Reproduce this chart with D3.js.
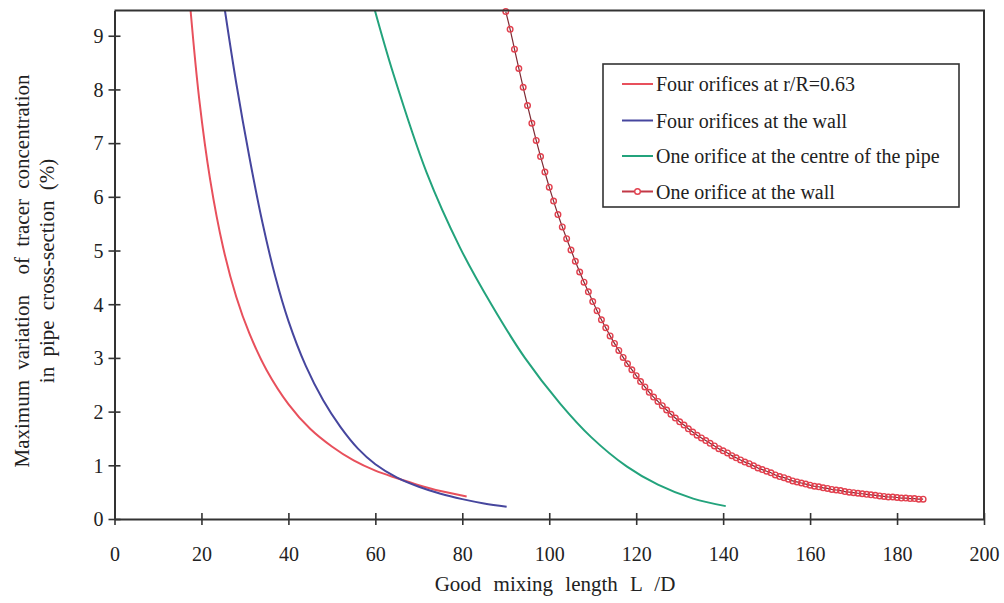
<!DOCTYPE html>
<html>
<head>
<meta charset="utf-8">
<script src="https://cdn.jsdelivr.net/npm/d3@7"></script>
<style>
  body { margin: 0; background: #fff; }
  svg { display: block; }
  text { font-family: "Liberation Serif", "Times New Roman", serif; fill: #222; }
</style>
</head>
<body>
<svg id="chart" width="1004" height="603"></svg>
<script>
// Axis ticks
const xTicks = [0, 20, 40, 60, 80, 100, 120, 140, 160, 180, 200];
const yTicks = [0, 1, 2, 3, 4, 5, 6, 7, 8, 9];

// Series labels
const seriesLabels = [
  "Four orifices at r/R=0.63",
  "Four orifices at the wall",
  "One orifice at the centre of the pipe",
  "One orifice at the wall"
];

// Four orifices at r/R=0.63
const fourMidX = [17.5, 19.5, 22, 25, 28, 31, 35, 40, 45, 50, 55, 60, 65, 70, 75, 81];
const fourMidY = [9.47, 7.81, 6.32, 5.05, 4.14, 3.46, 2.77, 2.14, 1.68, 1.35, 1.09, 0.90, 0.76, 0.63, 0.52, 0.42];

// Four orifices at the wall
const fourWallX = [25.4, 28, 31, 34, 37, 40, 44, 48, 52, 56, 60, 65, 70, 75, 80, 85, 90.2];
const fourWallY = [9.47, 8.12, 6.75, 5.53, 4.51, 3.69, 2.85, 2.21, 1.71, 1.31, 1.02, 0.77, 0.60, 0.47, 0.37, 0.29, 0.23];

// One orifice at the centre of the pipe
const oneCentreX = [59.9, 64.1, 71.8, 79.5, 86.8, 94.4, 102.5, 109.7, 117.8, 125.0, 133.1, 140.6];
const oneCentreY = [9.47, 8.30, 6.45, 5.05, 3.98, 3.00, 2.15, 1.52, 0.98, 0.64, 0.38, 0.24];

// One orifice at the wall (one marker per unit of L/D)
const oneWallX = [
  90, 91, 92, 93, 94, 95, 96, 97, 98, 99,
  100, 101, 102, 103, 104, 105, 106, 107, 108, 109,
  110, 111, 112, 113, 114, 115, 116, 117, 118, 119,
  120, 121, 122, 123, 124, 125, 126, 127, 128, 129,
  130, 131, 132, 133, 134, 135, 136, 137, 138, 139,
  140, 141, 142, 143, 144, 145, 146, 147, 148, 149,
  150, 151, 152, 153, 154, 155, 156, 157, 158, 159,
  160, 161, 162, 163, 164, 165, 166, 167, 168, 169,
  170, 171, 172, 173, 174, 175, 176, 177, 178, 179,
  180, 181, 182, 183, 184, 185, 186
];
const oneWallY = [
  9.45, 9.12, 8.75, 8.39, 8.04, 7.70, 7.37, 7.05, 6.75, 6.46,
  6.18, 5.92, 5.67, 5.44, 5.22, 5.01, 4.80, 4.60, 4.41, 4.23,
  4.05, 3.88, 3.71, 3.56, 3.41, 3.27, 3.14, 3.01, 2.89, 2.78,
  2.67, 2.56, 2.46, 2.36, 2.27, 2.19, 2.11, 2.03, 1.95, 1.88,
  1.81, 1.75, 1.68, 1.62, 1.56, 1.51, 1.46, 1.41, 1.36, 1.31,
  1.27, 1.23, 1.18, 1.14, 1.10, 1.06, 1.03, 0.99, 0.95, 0.92,
  0.89, 0.86, 0.82, 0.79, 0.77, 0.74, 0.71, 0.69, 0.67, 0.65,
  0.63, 0.61, 0.60, 0.58, 0.57, 0.55, 0.54, 0.53, 0.51, 0.50,
  0.49, 0.48, 0.47, 0.46, 0.45, 0.44, 0.43, 0.42, 0.41, 0.41,
  0.40, 0.39, 0.39, 0.38, 0.38, 0.37, 0.37
];

const colors = ["#e8505c", "#46469e", "#23a37c", "#e2404e"];

(function draw() {
  const svg = d3.select("#chart");
  const plotLeft = 114.5, plotRight = 984, plotTop = 10.5, plotBottom = 519;

  const x = d3.scaleLinear().domain([0, 200]).range([plotLeft, plotRight]);
  const y = d3.scaleLinear().domain([0, 9.47]).range([plotBottom, plotTop]);

  // Clip region for the curves
  svg.append("defs").append("clipPath").attr("id", "plot-clip")
    .append("rect").attr("x", plotLeft).attr("y", plotTop)
    .attr("width", plotRight - plotLeft).attr("height", plotBottom - plotTop);

  const zip = (xs, ys) => xs.map((v, i) => [v, ys[i]]);
  const line = d3.line().x(d => x(d[0])).y(d => y(d[1])).curve(d3.curveCatmullRom.alpha(0.5));

  const curves = svg.append("g").attr("clip-path", "url(#plot-clip)");
  [[fourMidX, fourMidY], [fourWallX, fourWallY], [oneCentreX, oneCentreY]].forEach((s, i) => {
    curves.append("path")
      .datum(zip(s[0], s[1]))
      .attr("d", line)
      .attr("fill", "none")
      .attr("stroke", colors[i])
      .attr("stroke-width", 2);
  });

  // Marker series
  const wallPts = zip(oneWallX, oneWallY);
  svg.append("path")
    .datum(wallPts)
    .attr("d", line)
    .attr("fill", "none")
    .attr("stroke", "#7e2a34")
    .attr("stroke-width", 1.2);
  svg.append("g").selectAll("circle")
    .data(wallPts)
    .join("circle")
    .attr("cx", d => x(d[0]))
    .attr("cy", d => y(d[1]))
    .attr("r", 2.8)
    .attr("fill", "none")
    .attr("stroke", colors[3])
    .attr("stroke-width", 1.4);

  // Frame (top and right)
  svg.append("path")
    .attr("d", `M${plotLeft},${plotTop}H${plotRight}V${plotBottom}`)
    .attr("fill", "none").attr("stroke", "#333").attr("stroke-width", 2);

  // X axis
  const gx = svg.append("g").attr("transform", `translate(0,${plotBottom})`)
    .call(d3.axisBottom(x).tickValues(xTicks).tickSizeInner(6).tickSizeOuter(0).tickFormat(d3.format("d")));
  gx.select(".domain").attr("stroke", "#333").attr("stroke-width", 2);
  gx.selectAll(".tick line").attr("y1", -6).attr("y2", 6).attr("stroke", "#333").attr("stroke-width", 1.6);
  gx.selectAll(".tick text").attr("y", 28).attr("dy", "0.71em").attr("font-size", 20)
    .style("font-family", "'Liberation Serif', serif").attr("fill", "#222");

  // Y axis
  const gy = svg.append("g").attr("transform", `translate(${plotLeft},0)`)
    .call(d3.axisLeft(y).tickValues(yTicks).tickSizeInner(6).tickSizeOuter(0).tickFormat(d3.format("d")));
  gy.select(".domain").attr("stroke", "#333").attr("stroke-width", 2);
  gy.selectAll(".tick line").attr("x1", -6).attr("x2", 6).attr("stroke", "#333").attr("stroke-width", 1.6);
  gy.selectAll(".tick text").attr("x", -11).attr("dy", "0.34em").attr("font-size", 20)
    .style("font-family", "'Liberation Serif', serif").attr("fill", "#222");

  // Axis titles
  svg.append("text")
    .attr("x", 555).attr("y", 591)
    .attr("text-anchor", "middle").attr("font-size", 21)
    .style("word-spacing", "7px")
    .text("Good mixing length L /D");

  const yTitle = svg.append("g").attr("transform", "translate(0,271) rotate(-90)");
  yTitle.append("text").attr("x", 0).attr("y", 22).attr("dy", "0.35em")
    .attr("text-anchor", "middle").attr("font-size", 21)
    .style("white-space", "pre").style("word-spacing", "5px")
    .text("Maximum variation  of tracer concentration");
  yTitle.append("text").attr("x", 0).attr("y", 47).attr("dy", "0.35em")
    .attr("text-anchor", "middle").attr("font-size", 21)
    .style("word-spacing", "5px")
    .text("in pipe cross-section (%)");

  // Legend
  const legend = svg.append("g");
  legend.append("rect")
    .attr("x", 603).attr("y", 64).attr("width", 356).attr("height", 143)
    .attr("fill", "#fff").attr("stroke", "#333").attr("stroke-width", 1.6);
  const rowY = [84, 120.5, 156, 191.5];
  seriesLabels.forEach((label, i) => {
    legend.append("line")
      .attr("x1", 622).attr("x2", 653).attr("y1", rowY[i]).attr("y2", rowY[i])
      .attr("stroke", i === 3 ? "#c23846" : colors[i]).attr("stroke-width", 2);
    if (i === 3) {
      legend.append("circle").attr("cx", 637.5).attr("cy", rowY[i]).attr("r", 2.8)
        .attr("fill", "#fff").attr("stroke", colors[i]).attr("stroke-width", 1.4);
    }
    legend.append("text")
      .attr("x", 656).attr("y", rowY[i]).attr("dy", "0.35em")
      .attr("font-size", 20)
      .text(label);
  });
})();
</script>
</body>
</html>
